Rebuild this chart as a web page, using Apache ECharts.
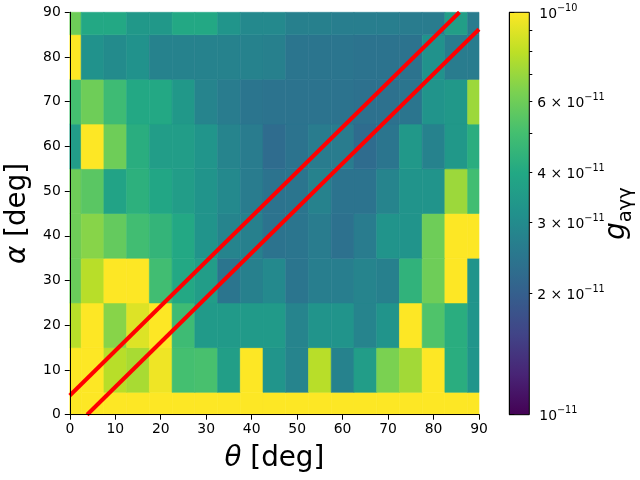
<!DOCTYPE html>
<html><head><meta charset="utf-8">
<script src="https://cdn.jsdelivr.net/npm/echarts@6/dist/echarts.min.js"></script>
<style>html,body{margin:0;padding:0;background:#fff}#c{width:640px;height:480px}</style>
</head><body><div id="c"></div>
<script>
// ---- data ----
var thetaValues = [0,5,10,15,20,25,30,35,40,45,50,55,60,65,70,75,80,85,90];
var alphaValues = [0,10,20,30,40,50,60,70,80,90];
// g_aγγ in units of 1e-11, one array per alpha row (theta 0..90)
var gAlpha0  = [10,10,10,10,10,10,10,10,10,10,10,10,10,10,10,10,10,10,10];
var gAlpha10 = [10,10,7.8,7.4,9.5,5.0,5.1,3.6,10,3.3,2.8,7.8,2.75,3.55,6.3,7.25,10,4.2,3.3];
var gAlpha20 = [7.8,10,6.6,8.9,10,4.8,3.45,3.45,3.45,3.45,2.8,3.25,3.25,2.8,3.25,10,5.25,4.2,3.3];
var gAlpha30 = [5.9,7.8,10,10,4.9,4.0,3.55,2.45,2.7,2.95,2.45,2.65,2.65,2.8,2.7,4.4,6.0,10,3.25];
var gAlpha40 = [6.0,6.6,5.75,4.9,4.5,4.0,3.25,2.8,2.7,2.4,2.45,2.6,2.35,2.6,3.25,3.25,6.0,10,10];
var gAlpha50 = [6.0,5.5,3.8,4.3,3.9,3.55,3.25,2.95,2.6,2.4,2.45,2.75,2.4,2.4,2.8,3.25,3.25,7.1,4.9];
var gAlpha60 = [3.55,10,6.0,4.2,3.55,3.55,3.3,2.8,2.6,2.25,2.4,2.6,2.6,2.25,2.45,3.4,2.75,3.4,4.2];
var gAlpha70 = [5.0,6.0,4.8,4.0,4.0,3.4,2.8,2.6,2.45,2.4,2.4,2.4,2.4,2.35,2.35,2.45,3.25,3.4,7.1];
var gAlpha80 = [10,3.2,3.0,3.2,2.75,2.75,2.75,2.75,2.75,2.7,2.45,2.45,2.45,2.4,2.4,2.4,3.2,2.6,2.6];
var gAlpha90 = [6.0,4.0,4.0,3.4,3.4,4.0,4.0,3.3,2.95,2.95,2.7,2.7,2.65,2.65,2.65,2.6,2.6,3.6,2.6];
var gUnit = 1e-11;
// red lines: alpha = theta + intercept
var lineIntercepts = [4.3, -3.8];
// colorbar ticks
var cbMajorTicks = [1e-11, 1e-10];
var cbMinorTicks = [2e-11,3e-11,4e-11,5e-11,6e-11,7e-11,8e-11,9e-11];
var cbMinorLabels = [2e-11,3e-11,4e-11,6e-11];

// ---- build ----
var gRows = [gAlpha0,gAlpha10,gAlpha20,gAlpha30,gAlpha40,gAlpha50,gAlpha60,gAlpha70,gAlpha80,gAlpha90];
var heatData = [];
for (var i = 0; i < alphaValues.length; i++) {
  for (var j = 0; j < thetaValues.length; j++) {
    heatData.push([thetaValues[j], alphaValues[i], Math.log10(gRows[i][j] * gUnit)]);
  }
}
var dTheta = thetaValues[1] - thetaValues[0];
var dAlpha = alphaValues[1] - alphaValues[0];
var AX_MIN = 0, AX_MAX = 90;
function lineEnds(c) {
  return c >= 0 ? [[AX_MIN, c], [AX_MAX - c, AX_MAX]] : [[-c, AX_MIN], [AX_MAX, AX_MAX + c]];
}
var lg = function (a) { return a.map(function (v) { return Math.log10(v); }); };
var viridis = ['#440154','#482475','#414487','#355f8d','#2a788e','#21918c','#22a884','#44bf70','#7ad151','#bddf26','#fde725'];
var FONT = 'DejaVu Sans';
function cbFmt(v) {
  var e = Math.floor(v + 1e-9);
  var m = Math.round(Math.pow(10, v - e));
  if (m >= 10) { m = 1; e += 1; }
  var es = '\u2212' + Math.abs(e);
  if (m === 1) return '{b|10}{sup|' + es + '}';
  return '{b|' + m + ' \u00d7 10}{sup|' + es + '}';
}
var cbRich = {
  b: {fontSize: 13.9, fontFamily: FONT, color: '#000', padding: [4, 0, 0, 0], verticalAlign: 'bottom'},
  sup: {fontSize: 9.7, fontFamily: FONT, color: '#000', verticalAlign: 'top'}
};

var chart = echarts.init(document.getElementById('c'), null, {renderer: 'canvas'});
var lineSeries = lineIntercepts.map(function (c) {
  return {
    type: 'line', xAxisIndex: 0, yAxisIndex: 0, data: lineEnds(c),
    symbol: 'none', clip: true, z: 5, silent: true, animation: false,
    lineStyle: {color: '#ff0000', width: 4}
  };
});
var axisLineBlack = {show: true, lineStyle: {color: '#000', width: 1}};
var option = {
  backgroundColor: '#fff',
  animation: false,
  grid: [
    {left: 69.8, top: 12.3, width: 409.2, height: 402.4, containLabel: false, outerBoundsMode: 'none'},
    {left: 509.3, top: 12.3, width: 20, height: 402.4, containLabel: false, outerBoundsMode: 'none'}
  ],
  visualMap: [{
    type: 'continuous', show: false, seriesIndex: 0, dimension: 2,
    min: -11, max: -10, inRange: {color: viridis}
  }],
  xAxis: [
    {gridIndex: 0, type: 'value', min: AX_MIN, max: AX_MAX, interval: 10, position: 'bottom', z: 10,
     axisLine: axisLineBlack, axisTick: {show: true, length: 5, lineStyle: {color: '#000'}},
     axisLabel: {color: '#000', fontSize: 13.9, fontFamily: FONT, margin: 8},
     splitLine: {show: false},
     name: '{i|\u03b8} [deg]', nameLocation: 'middle', nameGap: 30,
     nameTextStyle: {color: '#000', fontSize: 27.8, fontFamily: FONT,
       rich: {i: {fontStyle: 'italic', fontSize: 27.8, fontFamily: FONT, color: '#000'}}}},
    {gridIndex: 0, type: 'value', min: AX_MIN, max: AX_MAX, position: 'top', z: 10,
     axisLine: axisLineBlack, axisTick: {show: false}, axisLabel: {show: false}, splitLine: {show: false}},
    {gridIndex: 1, type: 'value', min: 0, max: 1, show: false}
  ],
  yAxis: [
    {gridIndex: 0, type: 'value', min: AX_MIN, max: AX_MAX, interval: 10, position: 'left', z: 10,
     axisLine: axisLineBlack, axisTick: {show: true, length: 5, lineStyle: {color: '#000'}},
     axisLabel: {color: '#000', fontSize: 13.9, fontFamily: FONT, margin: 9},
     splitLine: {show: false},
     name: '{i|\u03b1} [deg]', nameLocation: 'middle', nameGap: 33, nameRotate: 90,
     nameTextStyle: {color: '#000', fontSize: 27.8, fontFamily: FONT,
       rich: {i: {fontStyle: 'italic', fontSize: 27.8, fontFamily: FONT, color: '#000'}}}},
    {gridIndex: 0, type: 'value', min: AX_MIN, max: AX_MAX, position: 'right', z: 10,
     axisLine: axisLineBlack, axisTick: {show: false}, axisLabel: {show: false}, splitLine: {show: false}},
    {gridIndex: 1, type: 'value', min: -11, max: -10, position: 'right', z: 10,
     axisLine: axisLineBlack,
     axisTick: {show: true, length: 5, customValues: lg(cbMajorTicks), lineStyle: {color: '#000'}},
     axisLabel: {show: true, customValues: lg(cbMajorTicks), margin: 10, formatter: cbFmt, rich: cbRich, color: '#000'},
     splitLine: {show: false},
     name: '{g|g}{s|a\u03b3\u03b3}', nameLocation: 'middle', nameGap: 73, nameRotate: 90,
     nameTextStyle: {color: '#000', fontFamily: FONT,
       rich: {g: {fontStyle: 'italic', fontSize: 27.8, fontFamily: FONT, color: '#000', verticalAlign: 'bottom', padding: [0, 0, 6, 0]},
              s: {fontSize: 19.5, fontFamily: FONT, color: '#000', verticalAlign: 'bottom'}}}},
    {gridIndex: 1, type: 'value', min: -11, max: -10, position: 'right', z: 10,
     axisLine: {show: false},
     axisTick: {show: true, length: 3, customValues: lg(cbMinorTicks), lineStyle: {color: '#000'}},
     axisLabel: {show: true, customValues: lg(cbMinorLabels), margin: 8, formatter: cbFmt, rich: cbRich, color: '#000'},
     splitLine: {show: false}}
  ],
  series: [
    {
      type: 'custom', xAxisIndex: 0, yAxisIndex: 0, data: heatData, encode: {x: 0, y: 1},
      silent: true, z: 1,
      renderItem: function (params, api) {
        var th = api.value(0), al = api.value(1);
        var x0 = Math.max(AX_MIN, th - dTheta / 2), x1 = Math.min(AX_MAX, th + dTheta / 2);
        var y0 = Math.max(AX_MIN, al - dAlpha / 2), y1 = Math.min(AX_MAX, al + dAlpha / 2);
        var p0 = api.coord([x0, y1]), p1 = api.coord([x1, y0]);
        var c = api.visual('color');
        return {type: 'rect', shape: {x: p0[0], y: p0[1], width: p1[0] - p0[0], height: p1[1] - p0[1]},
                style: {fill: c, stroke: c, lineWidth: 0.6}};
      }
    }
  ].concat(lineSeries).concat([
    {
      type: 'custom', xAxisIndex: 2, yAxisIndex: 2, data: [[0, -10]], silent: true, z: 1,
      renderItem: function (params, api) {
        var p0 = api.coord([0, -10]), p1 = api.coord([1, -11]);
        var stops = viridis.map(function (col, k) { return {offset: k / (viridis.length - 1), color: col}; });
        return {type: 'rect', shape: {x: p0[0], y: p0[1], width: p1[0] - p0[0], height: p1[1] - p0[1]},
                style: {fill: new echarts.graphic.LinearGradient(0, 1, 0, 0, stops), stroke: '#000', lineWidth: 1}};
      }
    }
  ])
};
chart.setOption(option);
</script></body></html>
